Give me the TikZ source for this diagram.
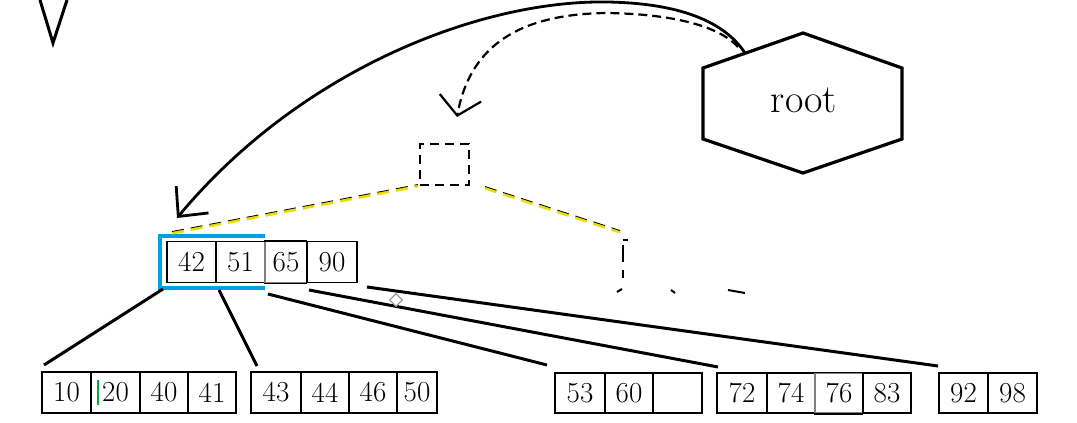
\documentclass[tikz,border=0pt]{standalone}
\usepackage{fontspec}
\usetikzlibrary{arrows.meta,shapes.geometric}
\definecolor{hlblue}{RGB}{0,160,226}
\definecolor{hlyellow}{RGB}{232,222,0}
\definecolor{mkgreen}{RGB}{0,170,70}
\begin{document}
\begin{tikzpicture}[x=1pt,y=-1pt,
  cell/.style={draw, line width=1.5pt, inner sep=0pt, minimum height=41pt,
    font=\fontsize{29}{31}\selectfont},
  link/.style={line width=3pt},
  bigarrow/.style={line width=2.8pt,-{Straight Barb[length=22pt,width=42pt]}},
  dashbox/.style={draw, line width=1.8pt, dash pattern=on 9pt off 6pt},
  yel/.style={hlyellow, line width=3.2pt, dash pattern=on 12pt off 7pt},
  yelb/.style={black, line width=0.8pt, dash pattern=on 12pt off 7pt},
  hexside/.style={line width=3.2pt, line join=miter}]
\useasboundingbox (0,0) rectangle (1077,423);

% top-left V fragment
\draw[link] (40,0) -- (53,43) -- (67,0);

% root hexagon
\coordinate (h1) at (803,33);
\coordinate (h2) at (902,68);
\coordinate (h3) at (902,139);
\coordinate (h4) at (803,173);
\coordinate (h5) at (703,139);
\coordinate (h6) at (703,68);
\draw[hexside] (h1) -- (h2) -- (h3) -- (h4) -- (h5) -- (h6) -- cycle;
\node[font=\fontsize{40}{44}\selectfont] (root) at (804,100) {root};

% dashed placeholder square
\node[dashbox, minimum width=49pt, minimum height=41pt, inner sep=0pt] (q) at (444.5,164.5) {};

% top node cells
\node[cell, minimum width=49pt] (c42) at (191.5,262) {42};
\node[cell, minimum width=49pt] (c51) at (240.5,262) {51};
\node[cell, minimum width=42pt, draw=gray] (c65) at (286,262) {65};
\node[cell, minimum width=50pt] (c90) at (332,262) {90};
\draw[line width=1.5pt] (c65.north west) -- (c90.north west) -- (c90.south west) -- (c65.south west);

% blue bracket
\draw[hlblue, line width=3.4pt] (265,236) -- (160,236) -- (160,288) -- (265,288);

% yellow dashed links
\coordinate (y1a) at (172,233);
\coordinate (y1b) at (418,186);
\coordinate (y2a) at (485,188);
\coordinate (y2b) at (620,232);
\draw[yel] (y1a) -- (y1b);
\draw[yelb] ([yshift=1.5pt]y1a) -- ([yshift=1.5pt]y1b);
\draw[yel] (y2a) -- (y2b);
\draw[yelb] ([yshift=1.5pt]y2a) -- ([yshift=1.5pt]y2b);

% partial dashed shape
\draw[line width=1.8pt] (623,240) -- (628,240);
\draw[line width=1.8pt] (623,245) -- (623,262);
\draw[line width=1.8pt] (623,270) -- (623,278);
\draw[line width=2pt] (617,292) -- (622,289);
\draw[line width=2pt] (671,290) -- (675,293);
\draw[line width=2pt] (728,290) -- (745,293);

% arrows from root
\coordinate (rs) at (745,53);
\coordinate (pk1) at (607,2);
\coordinate (t1) at (177,218);
\draw[bigarrow] (rs) .. controls (722,18) and (672,3) .. (pk1)
  .. controls (480,0) and (300,70) .. (t1);
\coordinate (rs2) at (738,47);
\coordinate (pk2) at (607,13);
\coordinate (t2) at (457,117);
\draw[line width=2.2pt, dash pattern=on 9pt off 5pt, -{Straight Barb[length=18pt,width=42pt]}]
  (rs2) .. controls (718,25) and (670,14) .. (pk2)
  .. controls (520,14) and (470,45) .. (t2);

% bottom row cells
\node[cell, minimum width=49pt] (b10) at (66.5,392.5) {10};
\node[cell, minimum width=49pt] (b20) at (115.5,392.5) {20};
\node[cell, minimum width=48pt] (b40) at (164,392.5) {40};
\node[cell, minimum width=48pt] (b41) at (212,392.5) {41};
\draw[mkgreen, line width=2pt] (98,380) -- (98,405);

\node[cell, minimum width=50pt] (b43) at (276,392.5) {43};
\node[cell, minimum width=48pt] (b44) at (325,392.5) {44};
\node[cell, minimum width=48pt] (b46) at (373,392.5) {46};
\node[cell, minimum width=40pt] (b50) at (417,392.5) {50};

\node[cell, minimum width=50pt, minimum height=40pt] (b53) at (580,393) {53};
\node[cell, minimum width=48pt, minimum height=40pt] (b60) at (629,393) {60};
\node[cell, minimum width=49pt, minimum height=40pt] (be) at (677.5,393) {};

\node[cell, minimum width=50pt, minimum height=40pt] (b72) at (742,393) {72};
\node[cell, minimum width=48pt, minimum height=40pt] (b74) at (791,393) {74};
\node[cell, minimum width=48pt, minimum height=40pt, draw=gray] (b76) at (839,393) {76};
\node[cell, minimum width=48pt, minimum height=40pt] (b83) at (887,393) {83};

\node[cell, minimum width=49pt, minimum height=40pt] (b92) at (963.5,393) {92};
\node[cell, minimum width=49pt, minimum height=40pt] (b98) at (1012.5,393) {98};
\draw[line width=1.5pt] (b76.north west) -- (b83.north west) -- (b83.south west) -- (b76.south west);
\draw[line width=1.5pt] (b76.north west) -- (b74.north east);

% child links
\coordinate (l1a) at (163,289); \coordinate (l1b) at (44,365);
\coordinate (l2a) at (219,290); \coordinate (l2b) at (257,366);
\coordinate (l3a) at (268,294); \coordinate (l3b) at (547,365);
\coordinate (l4a) at (309,290); \coordinate (l4b) at (718,367);
\coordinate (l5a) at (367,287); \coordinate (l5b) at (938,366);
\draw[link] (l1a) -- (l1b);
\draw[link] (l2a) -- (l2b);
\draw[link] (l3a) -- (l3b);
\draw[link] (l4a) -- (l4b);
\draw[link] (l5a) -- (l5b);

% small diamond marker
\node[diamond, draw=gray!80, fill=white, line width=1.2pt, minimum size=13pt, inner sep=0pt] (dm) at (396,300) {};
\end{tikzpicture}
\end{document}
